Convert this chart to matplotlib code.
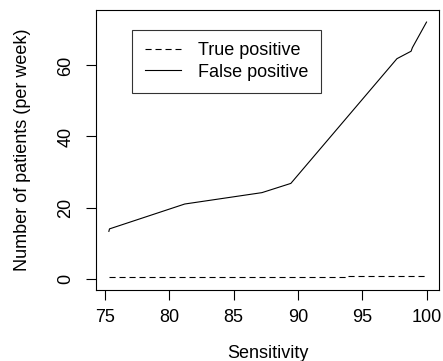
import matplotlib
matplotlib.use("Agg")
import matplotlib.pyplot as plt

plt.rcParams['font.family'] = ['Liberation Sans', 'DejaVu Sans']

# sensitivity (%) and patients per week
sens_fp = [75.3, 75.35, 81.2, 87.2, 89.45, 97.7, 98.8, 98.9, 100.0]
false_pos = [13.3, 14.0, 21.0, 24.2, 26.8, 61.9, 64.0, 65.0, 72.2]
sens_tp = [75.3, 93.8, 93.8, 100.0]
true_pos = [0.5, 0.5, 0.65, 0.65]

W, H = 443, 361
fig = plt.figure(figsize=(W / 100, H / 100), dpi=100)
ax = fig.add_axes([96 / W, (H - 290) / H, 343 / W, 280 / H])

ax.plot(sens_tp, true_pos, color='black', lw=0.8, linestyle=(0, (5.5, 3.5)), label='True positive')
ax.plot(sens_fp, false_pos, color='black', lw=0.8, label='False positive')

ax.set_xlim(74.3, 100.97)
ax.set_ylim(-3.2, 75.6)
ax.set_xticks([75, 80, 85, 90, 95, 100])
ax.set_yticks([0, 20, 40, 60])
ax.tick_params(direction='out', length=7.5, width=0.8, labelsize=13)
ax.tick_params(axis='x', pad=6)
ax.tick_params(axis='y', pad=8)
for lab in ax.get_yticklabels():
    lab.set_rotation(90)
    lab.set_va('center')
for s in ax.spines.values():
    s.set_linewidth(0.8)

ax.set_xlabel('Sensitivity', fontsize=13, labelpad=14)
ax.set_ylabel('Number of patients (per week)', fontsize=13, labelpad=19)

leg = ax.legend(loc='upper left', bbox_to_anchor=(0.105, 0.93), fontsize=13,
                frameon=True, fancybox=False, edgecolor='black', handlelength=2.0,
                borderpad=0.7, labelspacing=0.25, handletextpad=0.95, borderaxespad=0)
leg.get_frame().set_linewidth(0.8)

fig.savefig('out.png', dpi=100)
